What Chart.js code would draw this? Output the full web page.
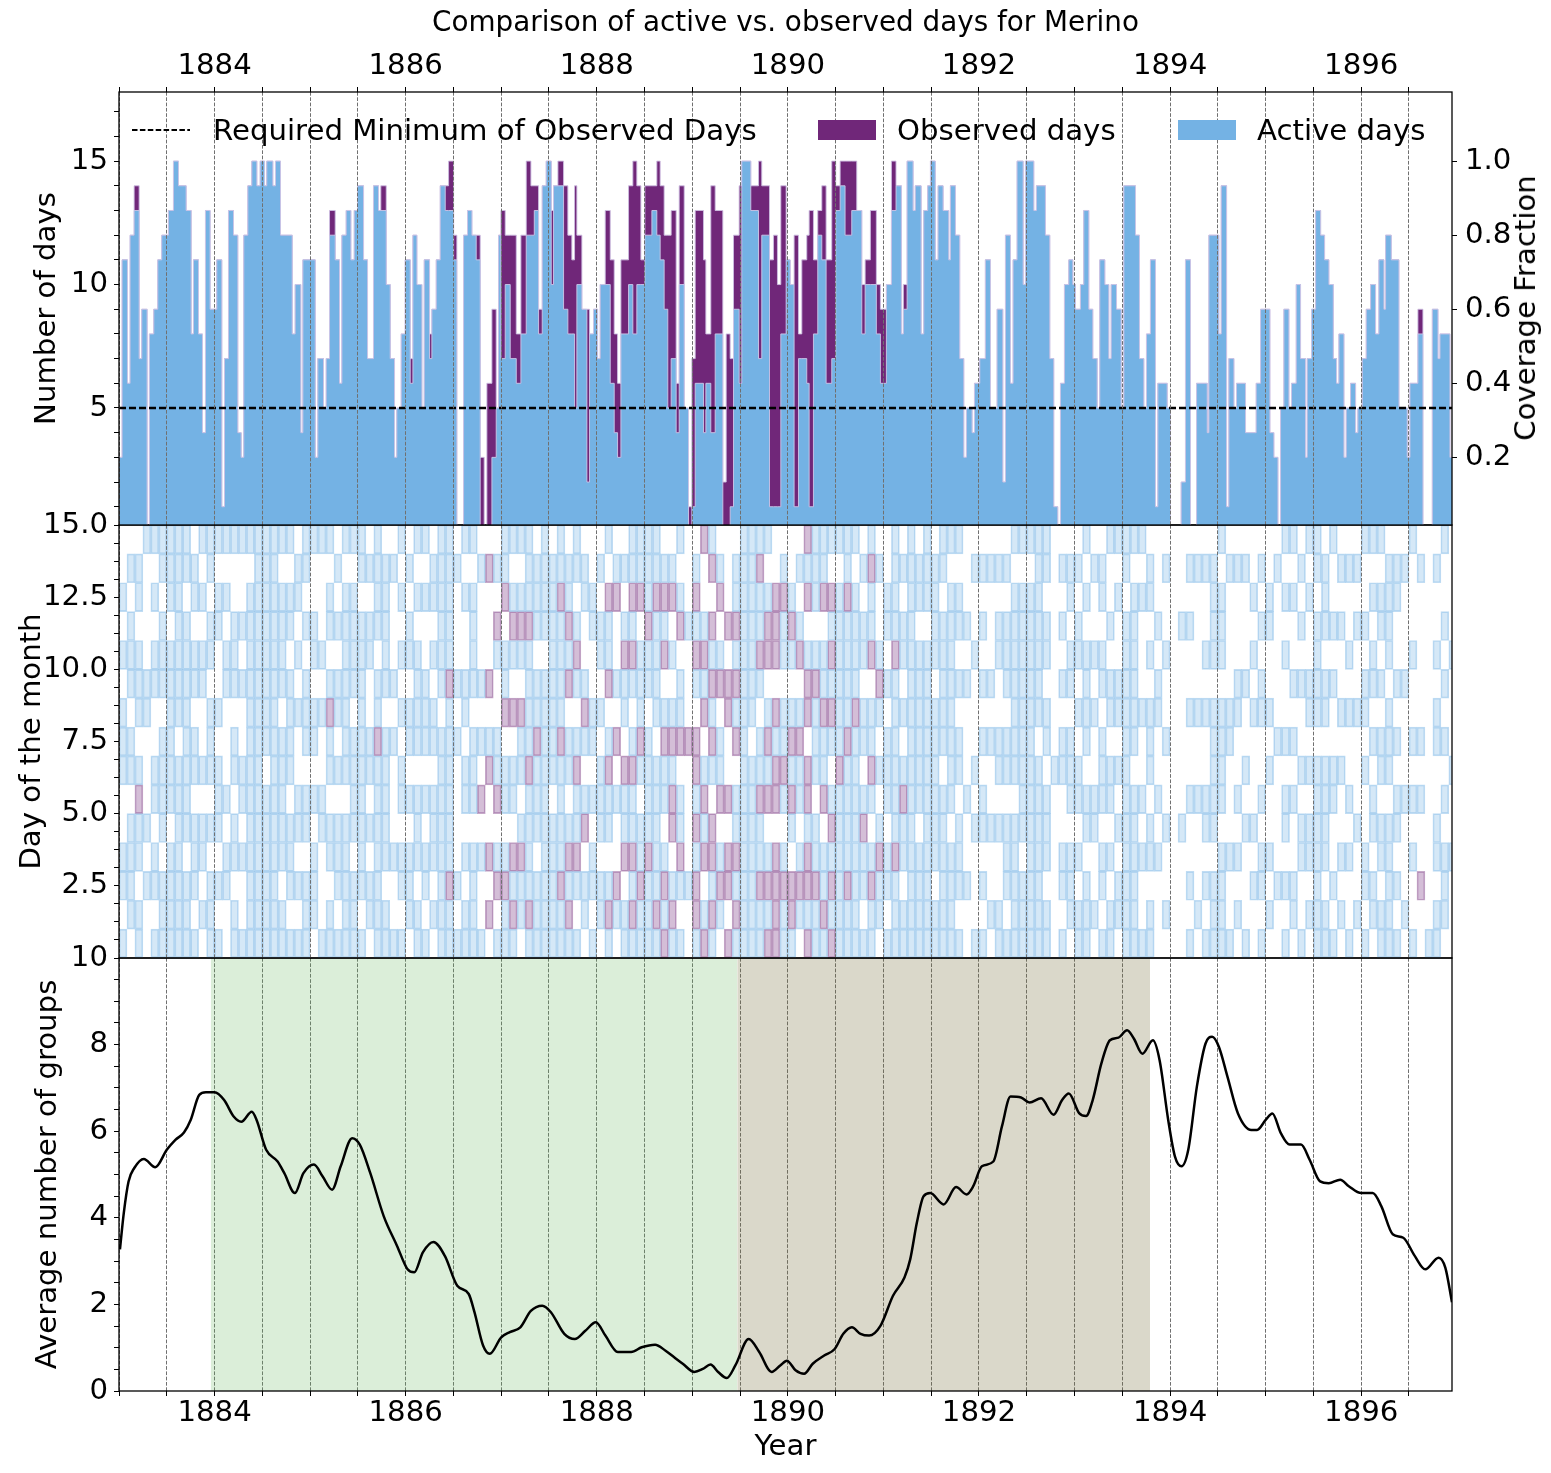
<!DOCTYPE html>
<html>
<head>
<meta charset="utf-8">
<script src="https://cdn.jsdelivr.net/npm/chart.js@4.4.1/dist/chart.umd.min.js"></script>
<style>
  html, body { margin: 0; padding: 0; background: #fff; }
  #fig { position: relative; width: 1551px; height: 1473px; font-family: 'DejaVu Sans', sans-serif; color: #000; overflow: hidden; }
  #fig canvas { position: absolute; left: 0; top: 0; }
  .txt { position: absolute; font-size: 29.2px; line-height: 30px; white-space: nowrap; }
  .patch { position: absolute; width: 58px; height: 20px; }
</style>
</head>
<body>
<div id="fig">
  <canvas id="bottomChart" width="1551" height="1473"></canvas>
  <canvas id="gridChart" width="1551" height="1473"></canvas>
  <canvas id="daysChart" width="1551" height="1473"></canvas>

  <div class="txt" style="left:119px;width:1333px;text-align:center;top:8px;font-size:27.8px;line-height:28px;">Comparison of active vs. observed days for Merino</div>

  <svg style="position:absolute;left:130px;top:120px;" width="64" height="20">
    <line x1="2" y1="10" x2="60" y2="10" stroke="#000" stroke-width="2.2" stroke-dasharray="5.5,2.4"></line>
  </svg>
  <div class="txt" style="left:213px;top:115px;">Required Minimum of Observed Days</div>
  <div class="patch" style="left:818px;top:120px;background:#702779;"></div>
  <div class="txt" style="left:897px;top:115px;">Observed days</div>
  <div class="patch" style="left:1178px;top:120px;background:#74b2e4;"></div>
  <div class="txt" style="left:1257px;top:115px;">Active days</div>

  <div class="txt" style="left:1525px;top:308px;transform:translate(-50%,-50%) rotate(-90deg);">Coverage Fraction</div>
</div>

<script>
// ---- data: half-month windows, start given in months since Jan 1883 ----
const startMonth = [
  0, 0.39, 1.06, 1.39, 1.90, 2.53, 2.86, 3.53, 3.82, 4.37,
  4.87, 5.37, 6.21, 6.84, 7.47, 8.43, 9.06, 9.35, 9.98, 10.48,
  10.86, 11.44, 12.28, 12.91, 13.25, 13.75, 14.38, 14.92, 15.34, 15.67,
  16.18, 16.68, 17.31, 17.73, 18.27, 18.56, 19.32, 19.65, 20.28, 21.75,
  22.12, 22.83, 23.09, 24.64, 24.97, 25.68, 26.02, 26.44, 27.15, 27.69,
  27.99, 28.53, 29.12, 29.54, 29.95, 30.71, 31.21, 31.96, 32.59, 32.88,
  33.56, 34.06, 34.60, 34.89, 35.44, 35.94, 36.57, 36.91, 37.41, 38.04,
  38.33, 39.00, 39.29, 39.84, 40.34, 40.97, 41.39, 42.02, 42.43, 43.27,
  43.77, 44.32, 44.86, 45.36, 45.86, 46.20, 46.83, 47.37, 47.67, 47.96,
  48.50, 49.13, 49.89, 50.47, 51.14, 51.73, 52.15, 52.69, 53.15, 53.65,
  54.28, 54.57, 55.12, 55.83, 56.37, 56.87, 57.21, 57.50, 58.13, 58.76,
  59.09, 59.59, 60.10, 60.43, 61.06, 61.69, 62.19, 62.61, 63.03, 63.99,
  64.53, 65.03, 65.54, 66.04, 66.92, 67.54, 67.96, 68.46, 68.92, 69.34,
  69.97, 70.35, 70.98, 71.52, 71.94, 72.36, 73.40, 73.70, 74.32, 74.87,
  75.83, 76.25, 76.75, 77.17, 77.88, 78.21, 79.34, 80.31, 80.72, 81.69,
  82.19, 82.69, 83.11, 83.78, 84.28, 84.78, 85.33, 85.75, 86.37, 86.67,
  87.21, 87.75, 88.26, 88.80, 89.51, 90.01, 90.56, 91.18, 92.02, 92.65,
  93.28, 93.70, 94.36, 95.11, 95.62, 96.37, 97.00, 97.58, 98.25, 98.50,
  98.97, 99.72, 100.00, 100.73, 101.06, 101.56, 101.90, 102.50, 102.86, 103.49,
  104.20, 104.41, 105.04, 105.58, 106.09, 106.42, 107.13, 107.43, 108.10, 108.80,
  109.44, 110.27, 110.99, 111.32, 111.95, 112.28, 112.78, 113.54, 113.83, 114.88,
  115.21, 116.34, 116.89, 117.39, 117.89, 118.23, 118.73, 119.28, 119.78, 120.11,
  120.74, 121.16, 121.79, 122.29, 122.84, 123.17, 123.80, 124.30, 124.60, 125.27,
  125.85, 126.19, 127.65, 128.15, 128.70, 129.03, 129.53, 130.16, 130.46, 131.63,
  132.05, 133.39, 133.93, 134.56, 135.32, 136.66, 136.87, 138.12, 138.42, 139.09,
  139.38, 140.01, 140.34, 141.47, 142.81, 143.36, 144.53, 145.03, 145.54, 145.87,
  146.29, 146.92, 147.25, 147.84, 148.38, 149.01, 149.22, 149.76, 150.27, 150.90,
  151.40, 151.94, 152.49, 152.90, 153.20, 153.83, 154.12, 154.66, 155.29, 155.58,
  156.13, 156.63, 157.18, 157.80, 158.22, 158.85, 159.06, 159.77, 160.74, 161.78,
  162.12, 163.12, 163.75, 164.93, 165.64, 165.89, 167.14
];
const END_MONTH = 167.4;

const activeDays = [
  3, 11, 6, 12, 13, 7, 9, 0, 8, 9,
  11, 12, 13, 15, 14, 13, 8, 11, 8, 4,
  13, 9, 11, 1, 7, 13, 12, 4, 3, 12,
  14, 15, 14, 15, 14, 15, 14, 15, 12, 8,
  10, 4, 11, 3, 7, 5, 7, 12, 11, 6,
  12, 13, 11, 13, 14, 11, 7, 14, 13, 13,
  10, 7, 3, 5, 8, 11, 6, 12, 10, 5,
  11, 7, 9, 11, 14, 13, 13, 11, 0, 12,
  13, 12, 11, 0, 0, 0, 3, 5, 12, 7,
  10, 7, 6, 8, 12, 12, 13, 8, 14, 15,
  10, 14, 14, 9, 8, 8, 5, 10, 9, 2,
  8, 9, 7, 10, 10, 6, 4, 3, 8, 10,
  8, 10, 10, 12, 13, 12, 11, 9, 5, 7,
  4, 10, 5, 0, 1, 6, 4, 6, 4, 8,
  0, 0, 1, 9, 6, 15, 13, 7, 12, 1,
  1, 1, 8, 11, 10, 1, 7, 7, 6, 1,
  8, 12, 11, 6, 7, 13, 14, 12, 13, 13,
  8, 10, 10, 8, 6, 10, 13, 14, 8, 9,
  15, 13, 14, 8, 13, 14, 15, 11, 14, 13,
  11, 14, 12, 7, 3, 5, 4, 6, 7, 11,
  5, 9, 2, 12, 6, 11, 15, 10, 15, 13,
  14, 12, 7, 1, 0, 6, 10, 11, 10, 9,
  10, 13, 9, 7, 5, 11, 10, 7, 10, 9,
  5, 14, 12, 7, 5, 8, 11, 1, 6, 5,
  0, 2, 11, 0, 6, 4, 12, 8, 14, 1,
  7, 5, 6, 4, 6, 9, 4, 3, 0, 5,
  9, 5, 6, 10, 7, 3, 7, 9, 13, 12,
  11, 10, 7, 6, 8, 3, 5, 6, 4, 5,
  7, 9, 10, 8, 11, 9, 12, 11, 5, 3,
  6, 8, 0, 9, 7, 8, 3
];

const observedDays = [
  3, 11, 6, 12, 14, 7, 9, 0, 8, 9,
  11, 12, 13, 15, 14, 13, 8, 11, 8, 4,
  13, 9, 11, 1, 7, 13, 12, 4, 3, 12,
  14, 15, 14, 15, 14, 15, 14, 15, 12, 8,
  10, 4, 11, 3, 7, 5, 7, 13, 11, 6,
  12, 13, 11, 13, 14, 11, 7, 14, 13, 14,
  10, 7, 3, 5, 8, 11, 7, 12, 10, 5,
  11, 8, 9, 11, 14, 14, 15, 12, 0, 12,
  13, 12, 12, 3, 0, 6, 9, 5, 12, 13,
  12, 12, 8, 12, 15, 14, 14, 9, 14, 15,
  13, 14, 15, 14, 12, 11, 14, 12, 9, 9,
  8, 9, 7, 10, 13, 11, 8, 6, 11, 14,
  15, 14, 11, 14, 14, 15, 14, 12, 12, 13,
  6, 14, 5, 1, 7, 13, 11, 8, 14, 13,
  2, 8, 7, 12, 14, 15, 14, 15, 14, 11,
  12, 10, 14, 11, 10, 12, 8, 11, 12, 13,
  11, 13, 14, 11, 15, 14, 15, 15, 15, 13,
  10, 11, 13, 10, 9, 10, 15, 14, 8, 10,
  15, 13, 14, 8, 13, 14, 15, 11, 14, 13,
  11, 14, 12, 7, 3, 5, 4, 6, 7, 11,
  5, 9, 2, 12, 6, 11, 15, 10, 15, 13,
  14, 12, 7, 1, 0, 6, 10, 11, 10, 9,
  10, 13, 9, 7, 5, 11, 10, 7, 10, 9,
  5, 14, 12, 7, 5, 8, 11, 1, 6, 5,
  0, 2, 11, 0, 6, 4, 12, 8, 14, 1,
  7, 5, 6, 4, 6, 9, 4, 3, 0, 5,
  9, 5, 6, 10, 7, 3, 7, 9, 13, 12,
  11, 10, 7, 6, 8, 3, 5, 6, 4, 5,
  7, 9, 10, 8, 11, 9, 12, 11, 5, 3,
  6, 9, 0, 9, 7, 8, 3
];

const REQUIRED_MIN = 5;
const FULL_WINDOW_DAYS = 15;

// one string per month, day 0 first: a = active day, o = observed only, . = none
const dayGrid = [
  'a.aa..aaa.a.a..', '.aaaa.aa.aaa.a.', 'aa.aaoa.aaa.aa.', '..a.a...aa....a', 'a.aa.aa..aa.a.a', 'aaa.aaaa.aaa.aa',
  'aaaa.aaaaaa.aaa', 'aaaaaaa.aaaaaaa', 'aaa.aaaaaaaa.aa', 'a.aaa.aa.aa.aa.', '.a.aa.a..aa.a.a', 'aaa.a.aaa.aa.aa',
  'a.a.aaa.a..aa.a', '..aa.a...aa.a.a', 'aa.aa.aa.aaa..a', 'a..a.aa..a.a..a', 'aaaaaaaaaaaaa.a', 'aaaaaaaaaaaaaaa',
  'aaaaaa.aaaaaaaa', 'aaaaaaaaaaaaaaa', 'aa.aaaaa.aaaa.a', 'a.aaa.aaaa.aa.a', 'a.a.aa..a.a.aa.', 'aaa.aa.aaa.a.aa',
  '.aaa.a.aa.aa..a', 'a...aa..a.a...a', 'aa.aa.aaoa.aa.a', 'a.aaa.a.aa.a.a.', 'aaaaa.aaaaaaa.a', 'aaa.aaaa.aaaa.a',
  'a.aaaaaaaaaa.aa', '.aa.a.aa..aa.a.', 'aaaaaaaoaa.aaaa', 'aa.aaaaa.aaaaa.', 'a..a...a.a...a.', 'a.aa.aa.a.a.a.a',
  '.aaa.a.aa.aa.a.', 'aa.aaa.aaaa.a.a', 'a.aa.a.aaa..a.a', '.a.aaa.aa.a.aa.', 'aaaaaaaa.aaaaaa', 'aaoaaaaaaoaaaaa',
  'a.a....a.a...a.', 'aa.a.aa.aa..a.a', 'aaaa.aaa.aaaa.a', 'a..a.o.a.a...a.', '.o.o..oa.o...o.', 'a.oa.oaa..ao.a.',
  'aaoa.aa.oaa.oaa', 'aoao.aa.o.aoa.a', '.aaoa.aao.aoa.a', 'aoaaaaoaaaaoaaa', 'aaa.aaaoaa.aaa.', 'aaaaaaaaaa.aaaa',
  'aaaaa.aaaaaaaa.', 'aaoaaaaoaaaaoaa', 'aoaoa.aa.oaoaa.', 'a.aoaaoa.aoa.aa', '.aa.oa.aoa..aa.', 'a.aa.a.aa..aa..',
  '.aa.aaa.a.aa.a.', 'aoa.aaoa.oaao.a', '.ao..a.o.a..oa.', 'aa.oaao.aaoa.a.', 'aoaoaaoa.aoaoaa', 'aaoaa.aoaaa.oaa',
  'aaaoaaaa.aaoaaa', 'aoaaaaa.aaaaoaa', 'oaoa.aaoa.oaoa.', 'aoa.ooaoa.a.oa.', 'a.aoaa.oaa.oa.a', '..a....o...a...',
  'aooaoaoo.aoaoa.', 'oa.oaoa.oaoa..o', 'aoaoo.aoaoao.oa', '.aoa.oaa.oa.oa.', 'o.oo.o..oo.o...', 'aoaoaa.oaoaoaa.',
  'aaaaaaaaaaaaaaa', 'aaaaaaa.aaaaaaa', 'aaoaaoaa.aoaaoa', 'oaoa.oaoa.ooa.a', 'oooo.ooao.ooo..', 'aaoa.aoaa.aaoa.',
  'aoo.aoaoa.aoa..', '.aoa.aaoa.oa.a.', 'oaooaoo.ooa.oao', 'aaoaa.aaaoa.aaa', 'aoaa.oaaoaa.oaa', 'oaoaoa.aoaoao.a',
  'aaaaaaoaaaaaa.a', 'aaoaaaaoaaaaoaa', 'aaaaaaaaoaaaa.a', 'a.aaoa.aa.aa.a.', 'aaoa.aoaa.oaaoa', '.aaoa.a.aoa..a.',
  'a.aa.aaa.a.aa..', 'aaaoaaaaaaoaaaa', 'aa.aaoa.a.aa.a.', 'aaaaaaaaaaaaaaa', 'aaaa.aaaaaa.aa.', 'aaaaaaaaaaa.aaa',
  'aa.aaaaaa.aaaa.', 'aaaaaa.aaaaa.aa', 'aaaa.aaaaaaaa.a', 'a.aaa.aa.a.aa.a', '..a..a...a.a...', 'a...a.a...a..a.',
  'a.a.aa.a.a.a.a.', '.a..a..a.a...a.', 'aa..a.aa..aa.a.', 'a.aaa.aa.aaa.a.', 'aaaaa.aaaaaaa.a', 'aaa.aaaaaaaaa.a',
  'aaaaaaaaaaaaa.a', 'aaaaaaa.aaaaaaa', 'aa.aaa.aa.aa.aa', '......a........', 'a.aa..aa.a.a.a.', '.aaa.aaa.aa.aa.',
  'aa.a.aa.a.aa.a.', 'aaa.aa.aaaa.a.a', '.a..aa..a.a..a.', 'a.aa.aaa.aa.aa.', 'aa.a.aa.aa.a..a', '.aa.a.a.aa..a.a',
  'aaaaaaaaaaaa.aa', 'aaaaaa.aaaaaa.a', 'a..a.a..a...a.a', 'aa.aa.aaa.a.aa.', '...a.a..aa.a...', '.a..a..a..a..a.',
  '...............', '....a......a...', 'a.a..a..a..a.a.', '.a...a..a....a.', 'a.a.aa..a.a..a.', 'aaa.aaaaa.aaaa.',
  'aaaa.aaaa.aaa.a', 'a..a...aa....a.', '.a.a.a..aa...a.', 'a...a.a..a...a.', '..a.a...a.a.a..', 'a.aa.a..aa.a.a.',
  '.a.a..a.a..aa..', '..a....a.....a.', 'a.a.aa.a..a.a.a', '.aa..a.a.a..a.a', 'a..aa.a..a.a.a.', '.a.aa.a.aa..a.a',
  'aaaaaaa.aaaa.aa', 'aa.aaaa.aa.aaa.', 'a.a..aa..a.a..a', '.a.a..a.a..a.a.', 'a..a.a..a.a..a.', '.a..a...a..a.a.',
  'a.aa..a.aa.a..a', '.aa.aa.a.aa.a.a', 'aa.aa.aa.a.aa.a', 'aaaaa.aaa.aaaa.', 'a.a.aa.a.a..aa.', '.a...a...a...a.',
  'a..a.a.a..a...a', '..o..a.a.....a.', 'a..............', 'aa.aa..aa.a..a.', '.aaa.a.a.a.a..a', '...a..a...a....'
];

// smoothed mean number of sunspot groups
const groupYears = [
  1883.01, 1883.05, 1883.10, 1883.16, 1883.26, 1883.38, 1883.50, 1883.59, 1883.68, 1883.75,
  1883.84, 1883.91, 1884.00, 1884.10, 1884.20, 1884.28, 1884.39, 1884.44, 1884.54, 1884.66,
  1884.73, 1884.84, 1884.93, 1885.04, 1885.13, 1885.23, 1885.32, 1885.44, 1885.52, 1885.63,
  1885.77, 1885.91, 1886.02, 1886.09, 1886.18, 1886.29, 1886.41, 1886.54, 1886.66, 1886.72,
  1886.81, 1886.88, 1887.00, 1887.09, 1887.20, 1887.31, 1887.43, 1887.52, 1887.66, 1887.77,
  1887.88, 1887.99, 1888.09, 1888.22, 1888.36, 1888.47, 1888.61, 1888.72, 1888.81, 1888.90,
  1889.02, 1889.11, 1889.19, 1889.27, 1889.36, 1889.45, 1889.59, 1889.70, 1889.83, 1889.92,
  1889.99, 1890.08, 1890.17, 1890.26, 1890.38, 1890.49, 1890.58, 1890.67, 1890.76, 1890.85,
  1890.97, 1891.10, 1891.22, 1891.28, 1891.35, 1891.42, 1891.49, 1891.63, 1891.76, 1891.87,
  1891.94, 1892.03, 1892.15, 1892.24, 1892.33, 1892.44, 1892.53, 1892.65, 1892.78, 1892.87,
  1892.94, 1893.05, 1893.12, 1893.19, 1893.28, 1893.37, 1893.46, 1893.55, 1893.62, 1893.71,
  1893.82, 1893.89, 1893.98, 1894.05, 1894.12, 1894.19, 1894.28, 1894.37, 1894.44, 1894.51,
  1894.60, 1894.71, 1894.85, 1894.91, 1895.00, 1895.07, 1895.16, 1895.25, 1895.37, 1895.46,
  1895.57, 1895.66, 1895.78, 1895.87, 1896.00, 1896.12, 1896.21, 1896.33, 1896.44, 1896.56,
  1896.67, 1896.81, 1896.88, 1896.95
];
const groupMeans = [
  3.27, 4.11, 4.84, 5.15, 5.36, 5.17, 5.57, 5.80, 5.97, 6.26,
  6.84, 6.90, 6.90, 6.72, 6.34, 6.22, 6.45, 6.26, 5.57, 5.30,
  5.03, 4.57, 5.03, 5.23, 4.96, 4.65, 5.19, 5.84, 5.69, 5.03,
  4.04, 3.35, 2.81, 2.74, 3.20, 3.44, 3.12, 2.43, 2.24, 1.82,
  1.05, 0.86, 1.24, 1.36, 1.47, 1.85, 1.97, 1.82, 1.32, 1.20,
  1.39, 1.59, 1.28, 0.90, 0.90, 1.01, 1.07, 0.93, 0.78, 0.63,
  0.44, 0.51, 0.61, 0.44, 0.30, 0.59, 1.20, 0.90, 0.44, 0.59,
  0.70, 0.48, 0.40, 0.63, 0.82, 0.97, 1.32, 1.47, 1.32, 1.28,
  1.51, 2.20, 2.62, 3.04, 3.89, 4.50, 4.57, 4.31, 4.71, 4.54,
  4.73, 5.19, 5.30, 6.11, 6.80, 6.78, 6.66, 6.76, 6.38, 6.72,
  6.87, 6.41, 6.35, 6.72, 7.56, 8.10, 8.16, 8.33, 8.14, 7.79,
  8.10, 7.64, 6.26, 5.42, 5.19, 5.57, 7.03, 8.02, 8.18, 7.95,
  7.26, 6.41, 6.03, 6.03, 6.26, 6.41, 5.95, 5.69, 5.69, 5.34,
  4.84, 4.80, 4.88, 4.73, 4.57, 4.57, 4.27, 3.62, 3.54, 3.12,
  2.81, 3.08, 2.85, 2.05
];

// shaded periods in the bottom panel
const periodStart = [1883.96, 1889.47];
const periodEnd = [1889.47, 1893.79];
const periodColors = ['rgba(100,180,90,0.23)', 'rgba(120,110,60,0.27)'];

// ---- helpers ----
const X_MIN = 1883.0;
const X_MAX = 1883 + END_MONTH / 12;
const Y_MIN = 0.26;
const Y_MAX = 17.8;
const toYear = m => 1883 + m / 12;
const isMultiple = (v, step) => Math.abs(v / step - Math.round(v / step)) < 1e-6;

Chart.defaults.font.family = "'DejaVu Sans', sans-serif";
Chart.defaults.font.size = 29.2;
Chart.defaults.color = '#000';

const framePlugin = {
  id: 'frame',
  afterDraw(chart) {
    const {ctx, chartArea: a} = chart;
    ctx.save();
    ctx.strokeStyle = '#000';
    ctx.lineWidth = 1.3;
    ctx.strokeRect(a.left, a.top, a.right - a.left, a.bottom - a.top);
    ctx.restore();
  }
};

function yearAxis(position, height, showLabels, gridZ) {
  return {
    type: 'linear', position: position, min: X_MIN, max: X_MAX, offset: false,
    afterFit: s => { s.height = height; },
    border: { display: false, dash: [3.7, 1.6] },
    grid: {
      offset: false, z: gridZ, color: '#707070', lineWidth: 1,
      drawTicks: showLabels, tickLength: 5, tickColor: '#000', tickWidth: 1, tickBorderDash: []
    },
    ticks: {
      display: showLabels, stepSize: 0.5, includeBounds: false, autoSkip: false,
      maxRotation: 0, minRotation: 0, padding: position === 'top' ? 3 : 0,
      callback: v => (isMultiple(v, 2) ? String(Math.round(v)) : '')
    }
  };
}

function leftAxis(min, max, step, labelStep, fmt, showZero, title, titlePad) {
  return {
    type: 'linear', position: 'left', min: min, max: max,
    afterFit: s => { s.width = 119; },
    border: { display: false },
    grid: { drawOnChartArea: false, tickLength: 5, tickColor: '#000', tickWidth: 1 },
    ticks: {
      stepSize: step, includeBounds: false, autoSkip: false, padding: 6,
      callback: v => ((v > 1e-9 || showZero) && isMultiple(v, labelStep) ? fmt(v) : '')
    },
    title: { display: true, text: title, padding: { top: titlePad, bottom: 0 } }
  };
}

function steps(values) {
  const pts = startMonth.map((m, i) => ({ x: toYear(m), y: values[i] }));
  pts.push({ x: toYear(END_MONTH), y: values[values.length - 1] });
  return pts;
}

const baseOptions = {
  responsive: false,
  animation: false,
  events: [],
  plugins: { legend: { display: false }, tooltip: { enabled: false } }
};

// ---- top panel: days per window ----
new Chart(document.getElementById('daysChart'), {
  type: 'line',
  data: {
    datasets: [
      {
        label: 'Required Minimum of Observed Days',
        data: [{ x: X_MIN, y: REQUIRED_MIN }, { x: X_MAX, y: REQUIRED_MIN }],
        borderColor: '#000', borderWidth: 2.4, borderDash: [7, 3], pointRadius: 0, fill: false
      },
      {
        label: 'Active days',
        data: steps(activeDays), stepped: true, pointRadius: 0,
        backgroundColor: '#74b2e4', borderColor: 'rgba(205,198,232,0.9)', borderWidth: 1, fill: 'origin'
      },
      {
        label: 'Observed days',
        data: steps(observedDays), stepped: true, pointRadius: 0,
        backgroundColor: '#702779', borderColor: 'rgba(205,190,225,0.9)', borderWidth: 1, fill: 'origin'
      }
    ]
  },
  options: Object.assign({}, baseOptions, {
    layout: { padding: { top: 0, bottom: 1473 - 525, left: 0, right: 0 } },
    scales: {
      x: yearAxis('top', 92, true, 1),
      y: leftAxis(Y_MIN, Y_MAX, 1, 5, v => String(Math.round(v)), false, 'Number of days', 30),
      y2: {
        type: 'linear', position: 'right',
        min: Y_MIN / FULL_WINDOW_DAYS, max: Y_MAX / FULL_WINDOW_DAYS,
        afterFit: s => { s.width = 99; },
        border: { display: false },
        grid: { drawOnChartArea: false, tickLength: 5, tickColor: '#000', tickWidth: 1 },
        ticks: { stepSize: 0.2, includeBounds: false, autoSkip: false, padding: 8, callback: v => v.toFixed(1) }
      }
    }
  }),
  plugins: [framePlugin]
});

// ---- middle panel: which days were active / observed ----
const cells = { a: [], o: [] };
dayGrid.forEach((col, i) => {
  for (let d = 0; d < col.length; d++) {
    const c = col[d];
    if (cells[c]) cells[c].push({ x: toYear(i + 0.5), y: [d, d + 1] });
  }
});

new Chart(document.getElementById('gridChart'), {
  type: 'bar',
  data: {
    datasets: [
      {
        label: 'Active', data: cells.a,
        backgroundColor: 'rgba(116,178,228,0.3)', borderColor: 'rgba(116,178,228,0.45)', borderWidth: 1,
        borderSkipped: false, grouped: false, barPercentage: 1, categoryPercentage: 1
      },
      {
        label: 'Observed', data: cells.o,
        backgroundColor: 'rgba(112,39,121,0.3)', borderColor: 'rgba(112,39,121,0.4)', borderWidth: 1,
        borderSkipped: false, grouped: false, barPercentage: 1, categoryPercentage: 1
      }
    ]
  },
  options: Object.assign({}, baseOptions, {
    layout: { padding: { top: 525, bottom: 1473 - 958, left: 0, right: 99 } },
    scales: {
      x: yearAxis('bottom', 0, false, 1),
      y: leftAxis(0, 15, 0.625, 2.5, v => v.toFixed(1), false, 'Day of the month', 15)
    }
  }),
  plugins: [framePlugin]
});

// ---- bottom panel: average number of groups ----
const shadeSets = periodStart.map((s, i) => ({
  label: 'period ' + (i + 1),
  data: [{ x: s, y: 10 }, { x: periodEnd[i], y: 10 }],
  backgroundColor: periodColors[i], borderWidth: 0, pointRadius: 0, fill: 'origin'
}));

const bottomX = yearAxis('bottom', 1473 - 1391, true, -1);
bottomX.title = { display: true, text: 'Year', padding: { top: 0, bottom: 8 } };

new Chart(document.getElementById('bottomChart'), {
  type: 'line',
  data: {
    datasets: [
      {
        label: 'Average number of groups',
        data: groupYears.map((x, i) => ({ x: x, y: groupMeans[i] })),
        borderColor: '#000', borderWidth: 2.5, pointRadius: 0, fill: false,
        cubicInterpolationMode: 'monotone'
      }
    ].concat(shadeSets)
  },
  options: Object.assign({}, baseOptions, {
    layout: { padding: { top: 958, bottom: 0, left: 0, right: 99 } },
    scales: {
      x: bottomX,
      y: leftAxis(0, 10, 0.5, 2, v => String(Math.round(v)), true, 'Average number of groups', 31)
    }
  }),
  plugins: [framePlugin]
});
</script>
</body>
</html>
